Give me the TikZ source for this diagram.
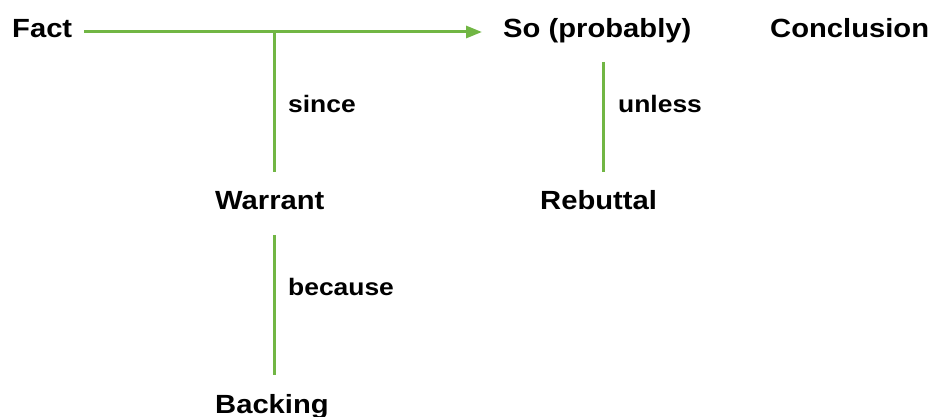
\documentclass[tikz,border=0pt]{standalone}
\usepackage{fontspec}
\setmainfont[FakeStretch=1.11]{Liberation Sans}
\usetikzlibrary{arrows.meta}
\definecolor{lgreen}{RGB}{113,182,68}
\begin{document}
\begin{tikzpicture}[x=1pt,y=-1pt,
  term/.style={anchor=base west,inner sep=0pt,font=\fontsize{26.3}{30}\selectfont\bfseries},
  lbl/.style={anchor=base west,inner sep=0pt,font=\fontsize{23.8}{28}\selectfont\bfseries},
  link/.style={draw=lgreen,line width=3pt}]
\useasboundingbox (0,0) rectangle (930,417);
\node[term] (fact) at (12,38) {Fact};
\node[term] (so) at (503,38) {So (probably)};
\node[term] (concl) at (770,38) {Conclusion};
\node[lbl] (since) at (288,113) {since};
\node[lbl] (unless) at (618,113) {unless};
\node[term] (warrant) at (215,210) {Warrant};
\node[term] (rebuttal) at (540,210) {Rebuttal};
\node[lbl] (because) at (288,295) {because};
\node[term] (backing) at (215,413) {Backing};
\coordinate (a0) at (84,32);
\coordinate (a1) at (482,32);
\coordinate (j) at (274,32);
\coordinate (wtop) at (274,172);
\coordinate (ubot) at (603,62);
\coordinate (utop) at (603,172);
\coordinate (wbot) at (274,235);
\coordinate (btop) at (274,375);
\draw[link,-{Triangle[length=16pt,width=12pt]}] (a0) -- (a1);
\draw[link] (j) -- (wtop);
\draw[link] (ubot) -- (utop);
\draw[link] (wbot) -- (btop);
\end{tikzpicture}
\end{document}
